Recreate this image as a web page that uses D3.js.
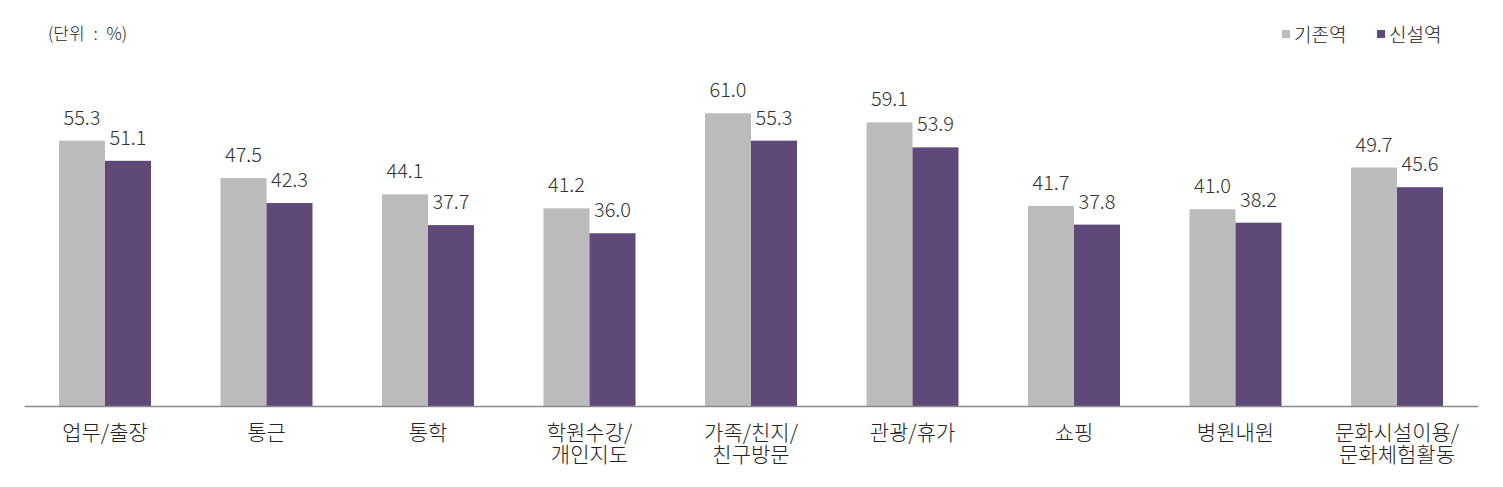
<!DOCTYPE html>
<html><head><meta charset="utf-8">
<script src="https://cdn.jsdelivr.net/npm/d3@7"></script>
<style>
body{margin:0;background:#fff;}
svg{display:block;font-family:"Noto Sans CJK KR","Noto Sans",sans-serif;}
</style></head>
<body><svg id="c" width="1503" height="487"></svg>
<script>
const categories = [["업무/출장"],["통근"],["통학"],["학원수강/","개인지도"],["가족/친지/","친구방문"],["관광/휴가"],["쇼핑"],["병원내원"],["문화시설이용/","문화체험활동"]];
const seriesNames = ["기존역","신설역"];
const existingValues = [55.3,47.5,44.1,41.2,61.0,59.1,41.7,41.0,49.7];
const newValues = [51.1,42.3,37.7,36.0,55.3,53.9,37.8,38.2,45.6];
const colors = ["#bcbbbc","#5e4979"];
const unitLabel = "(단위 : %)";

const svg = d3.select("#c");
const keys = categories.map((c,i)=>i);
const x = d3.scaleBand().domain(keys).range([24.25,1477.75]).padding(0);
const y = d3.scaleLinear().domain([0,60]).range([406,406-287.9]);
const barW = 46;
const xs = d3.scaleBand().domain(seriesNames).range([x.bandwidth()/2-barW, x.bandwidth()/2+barW]);
const data = keys.map(i=>({i, vals:[existingValues[i], newValues[i]]}));

const g = svg.append("g");
const groups = g.selectAll("g.grp").data(data).enter().append("g").attr("transform",d=>`translate(${x(d.i)},0)`);
groups.selectAll("rect").data(d=>d.vals.map((v,k)=>({v,k}))).enter().append("rect")
  .attr("x",d=>xs(seriesNames[d.k])).attr("width",xs.bandwidth())
  .attr("y",d=>y(d.v)).attr("height",d=>y(0)-y(d.v)).attr("fill",d=>colors[d.k]);
groups.selectAll("text.val").data(d=>d.vals.map((v,k)=>({v,k}))).enter().append("text")
  .attr("class","val").attr("x",d=>xs(seriesNames[d.k])+xs.bandwidth()/2).attr("y",d=>y(d.v)-16)
  .attr("text-anchor","middle").attr("font-size",20).attr("font-weight",300).attr("fill","#333")
  .text(d=>d.v.toFixed(1));

const axis = svg.append("g").attr("transform",`translate(0,${y(0)})`)
  .call(d3.axisBottom(x).tickSize(0).tickFormat(()=>""));
axis.select(".domain").attr("stroke","#8a8a8a").attr("stroke-width",1.3);
axis.selectAll(".tick text").remove();
keys.forEach(i=>{
  categories[i].forEach((line,j)=>{
    svg.append("text").attr("x",x(i)+x.bandwidth()/2).attr("y",440+j*22)
      .attr("text-anchor","middle").attr("font-size",21).attr("font-weight",300).attr("fill","#222")
      .text(line);
  });
});

svg.append("text").attr("x",48).attr("y",40).attr("font-size",17).attr("font-weight",300).attr("fill","#222")
  .attr("word-spacing",5).text(unitLabel);

const legendX = [1282,1377];
seriesNames.forEach((s,k)=>{
  svg.append("rect").attr("x",legendX[k]).attr("y",30).attr("width",8).attr("height",8).attr("fill",colors[k]);
  svg.append("text").attr("x",legendX[k]+12).attr("y",42).attr("font-size",19).attr("font-weight",300).attr("fill","#222").text(s);
});
</script></body></html>
